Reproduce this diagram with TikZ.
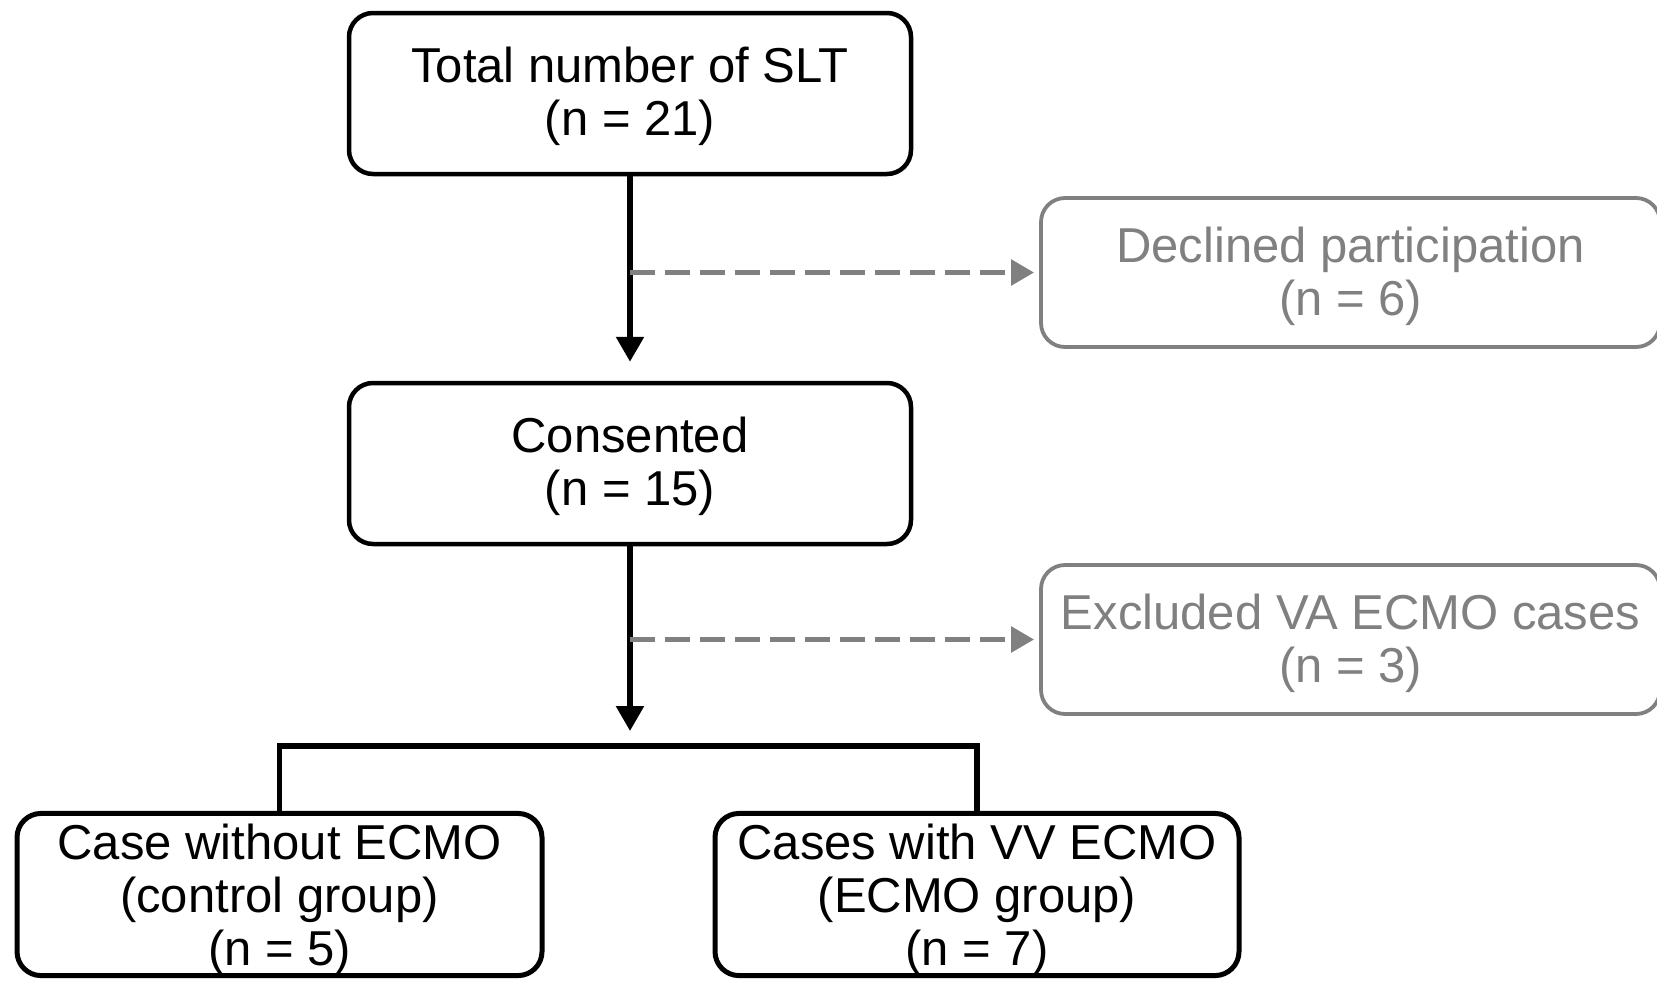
\documentclass[tikz,border=0pt]{standalone}
\usepackage{fontspec}
\setmainfont{Liberation Sans}
\usetikzlibrary{arrows.meta}
\definecolor{greyc}{RGB}{128,128,128}
\newcommand{\lowerby}[1]{\rule{0pt}{#1}}
\begin{document}
\begin{tikzpicture}[x=1pt,y=-1pt,
  box/.style={draw=black,line width=4.5pt,rounded corners=24pt,rectangle,
    inner sep=0pt,align=center,font=\fontsize{49}{53}\selectfont,text=black},
  greybox/.style={box,draw=greyc,line width=3.8pt,text=greyc},
  conn/.style={line width=5.5pt,draw=black},
  arr/.style={conn,-{Triangle[length=25pt,width=27pt]}},
  darr/.style={line width=5.5pt,draw=greyc,dash pattern=on 25pt off 10pt,
    -{Triangle[length=23pt,width=25pt]}}]
\useasboundingbox (0,0) rectangle (1657,983);
\begin{scope}
\clip (0,0) rectangle (1657,983);
\node[box,minimum width=562pt,minimum height=161pt] (top) at (630,93.5)
  {\lowerby{42pt}Total number of SLT\\(n = 21)};
\node[box,minimum width=562pt,minimum height=161pt] (cons) at (630,463.5)
  {\lowerby{42pt}Consented\\(n = 15)};
\node[greybox,minimum width=619pt,minimum height=149pt] (decl) at (1350.5,272.5)
  {\lowerby{43pt}Declined participation\\(n = 6)};
\node[greybox,minimum width=619pt,minimum height=149pt] (excl) at (1350.5,639.5)
  {\lowerby{43pt}Excluded VA ECMO cases\\(n = 3)};
\node[box,line width=5pt,minimum width=525pt,minimum height=161pt] (ctrl) at (279.5,894.5)
  {\lowerby{46pt}Case without ECMO\\(control group)\\(n = 5)};
\node[box,line width=5pt,minimum width=524pt,minimum height=161pt] (ecmo) at (977,894.5)
  {\lowerby{46pt}Cases with VV ECMO\\(ECMO group)\\(n = 7)};
\coordinate (a2) at (630,731);
\coordinate (bar) at (630,746);
\draw[arr,shorten >=19pt] (top.south) -- (cons.north);
\draw[arr] (cons.south) -- (a2);
\draw[darr,shorten >=5pt] (top.south |- decl.west) -- (decl.west);
\draw[darr,shorten >=5pt] (cons.south |- excl.west) -- (excl.west);
\draw[conn] (ctrl.north) -- (ctrl.north |- bar) -- (ecmo.north |- bar) -- (ecmo.north);
\end{scope}
\end{tikzpicture}
\end{document}
